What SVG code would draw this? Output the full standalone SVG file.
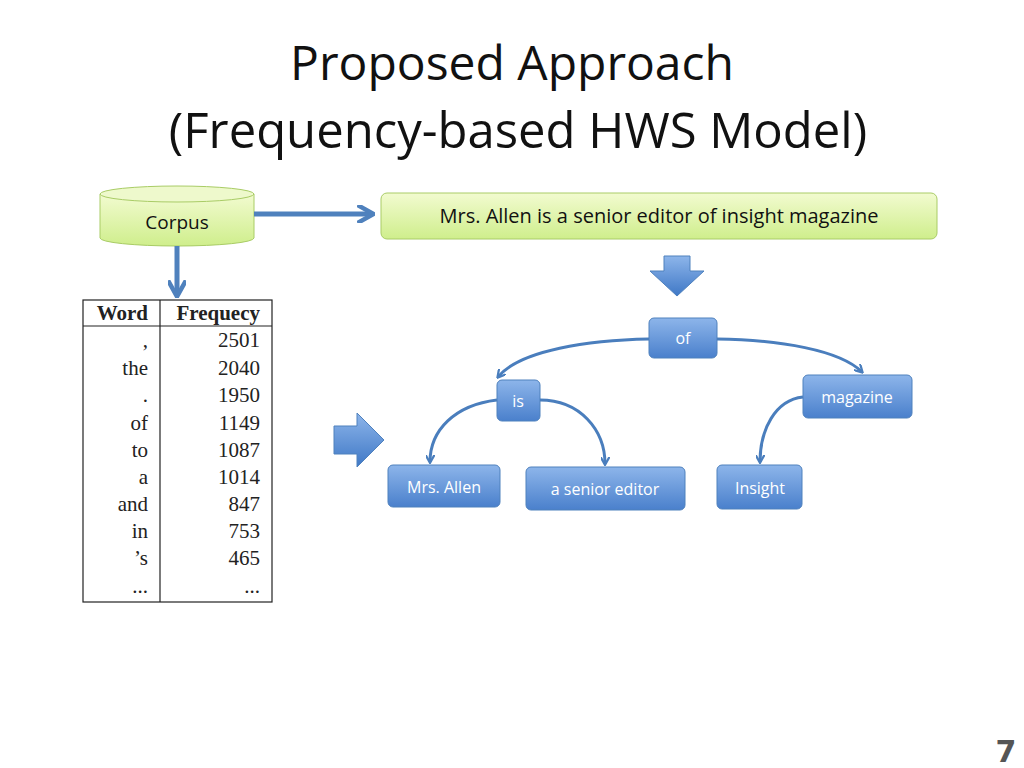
<svg xmlns="http://www.w3.org/2000/svg" width="1024" height="768" viewBox="0 0 1024 768">
<defs>
<linearGradient id="gg" x1="0" y1="0" x2="0" y2="1"><stop offset="0" stop-color="#f2fbd0"/><stop offset="1" stop-color="#cfee8c"/></linearGradient>
<linearGradient id="bg" x1="0" y1="0" x2="0" y2="1"><stop offset="0" stop-color="#8db5ea"/><stop offset="1" stop-color="#4a80cc"/></linearGradient>
<linearGradient id="ag" x1="0" y1="0" x2="0" y2="1"><stop offset="0" stop-color="#8db5ea"/><stop offset="1" stop-color="#3f78c6"/></linearGradient>
<marker id="ah" viewBox="0 0 10 10" refX="8" refY="5" markerWidth="9" markerHeight="9" orient="auto" markerUnits="userSpaceOnUse"><path d="M0,0 L9,5 L0,10" fill="none" stroke="#4a7ebd" stroke-width="2.5"/></marker>
<marker id="ah2" viewBox="0 0 10 10" refX="7" refY="5" markerWidth="18" markerHeight="18" orient="auto" markerUnits="userSpaceOnUse"><path d="M0,0 L9,5 L0,10" fill="none" stroke="#4f81bd" stroke-width="2.5"/></marker>
</defs>
<style>
.t{font-family:"Open Sans","Liberation Sans",sans-serif;fill:#fff;font-size:16px;text-anchor:middle}
.b{fill:url(#bg);stroke:#4f81bd;stroke-width:1}
.c{fill:none;stroke:#4a7ebd;stroke-width:3}
.tb{font-family:"Liberation Serif",serif;font-size:21px;fill:#222;text-anchor:end}
</style>
<rect width="1024" height="768" fill="#fff"/>
<text x="512" y="80" font-family="Open Sans, Liberation Sans, sans-serif" font-size="48" text-anchor="middle" fill="#111">Proposed Approach</text>
<text x="518" y="148" font-family="Open Sans, Liberation Sans, sans-serif" font-size="49" text-anchor="middle" fill="#111">(Frequency-based HWS Model)</text>

<g id="corpus">
<path d="M100,194 v44 a77,8 0 0 0 154,0 v-44" fill="url(#gg)" stroke="#a9cc66"/>
<ellipse cx="177" cy="194" rx="77" ry="8" fill="#eef9cc" stroke="#a9cc66"/>
<text x="177" y="229" font-family="Open Sans, Liberation Sans, sans-serif" font-size="19" text-anchor="middle" fill="#111">Corpus</text>
</g>
<g id="sentence">
<rect x="381" y="193" width="556" height="46" rx="6" fill="url(#gg)" stroke="#a9cc66"/>
<text x="659" y="223" font-family="Open Sans, Liberation Sans, sans-serif" font-size="20" text-anchor="middle" fill="#111">Mrs. Allen is a senior editor of insight magazine</text>
</g>
<g id="table">
<rect x="83" y="300" width="189" height="302" fill="#fff" stroke="#222" stroke-width="1.2"/>
<line x1="160" y1="300" x2="160" y2="602" stroke="#222" stroke-width="1.2"/>
<line x1="83" y1="326" x2="272" y2="326" stroke="#222" stroke-width="1.2"/>
<text x="148" y="320" class="tb" font-weight="bold">Word</text>
<text x="260" y="320" class="tb" font-weight="bold">Frequecy</text>
<text x="148" y="347" class="tb">,</text><text x="260" y="347" class="tb">2501</text>
<text x="148" y="375" class="tb">the</text><text x="260" y="375" class="tb">2040</text>
<text x="148" y="402" class="tb">.</text><text x="260" y="402" class="tb">1950</text>
<text x="148" y="430" class="tb">of</text><text x="260" y="430" class="tb">1149</text>
<text x="148" y="457" class="tb">to</text><text x="260" y="457" class="tb">1087</text>
<text x="148" y="484" class="tb">a</text><text x="260" y="484" class="tb">1014</text>
<text x="148" y="511" class="tb">and</text><text x="260" y="511" class="tb">847</text>
<text x="148" y="538" class="tb">in</text><text x="260" y="538" class="tb">753</text>
<text x="148" y="565" class="tb">’s</text><text x="260" y="565" class="tb">465</text>
<text x="148" y="593" class="tb">...</text><text x="260" y="593" class="tb">...</text>
</g>
<g id="n-of"><rect x="649" y="318" width="68" height="40" rx="5" class="b"/><text x="683" y="344" class="t">of</text></g>
<g id="n-is"><rect x="497" y="380" width="43" height="41" rx="5" class="b"/><text x="518" y="407" class="t">is</text></g>
<g id="n-mag"><rect x="803" y="375" width="109" height="43" rx="5" class="b"/><text x="857" y="403" class="t">magazine</text></g>
<g id="n-mrs"><rect x="388" y="465" width="112" height="42" rx="5" class="b"/><text x="444" y="493" class="t">Mrs. Allen</text></g>
<g id="n-ase"><rect x="526" y="467" width="159" height="43" rx="5" class="b"/><text x="605" y="495" class="t">a senior editor</text></g>
<g id="n-ins"><rect x="717" y="465" width="85" height="44" rx="5" class="b"/><text x="760" y="494" class="t">Insight</text></g>

<g id="connectors">
<path d="M254,214 H370" fill="none" stroke="#4f81bd" stroke-width="5" marker-end="url(#ah2)"/>
<path d="M177,246 V293" fill="none" stroke="#4f81bd" stroke-width="5" marker-end="url(#ah2)"/>
<path d="M664,256 h26 v15 h14 l-27,25 l-27,-25 h14 z" fill="url(#ag)" stroke="#4f81bd"/>
<path d="M334,426 h23 v-13 l27,27 l-27,27 v-13 h-23 z" fill="url(#ag)" stroke="#4f81bd"/>
<path class="c" d="M649,339 C590,340 520,350 498,377" marker-end="url(#ah)"/>
<path class="c" d="M717,339 C780,340 840,350 862,372" marker-end="url(#ah)"/>
<path class="c" d="M497,400 C455,405 430,430 430,462" marker-end="url(#ah)"/>
<path class="c" d="M540,400 C580,400 605,430 605,464" marker-end="url(#ah)"/>
<path class="c" d="M803,397 C775,400 760,430 760,462" marker-end="url(#ah)"/>
</g>
<text x="1006" y="762" font-family="DejaVu Sans, sans-serif" font-weight="bold" font-size="30" text-anchor="middle" fill="#555">7</text>
</svg>
